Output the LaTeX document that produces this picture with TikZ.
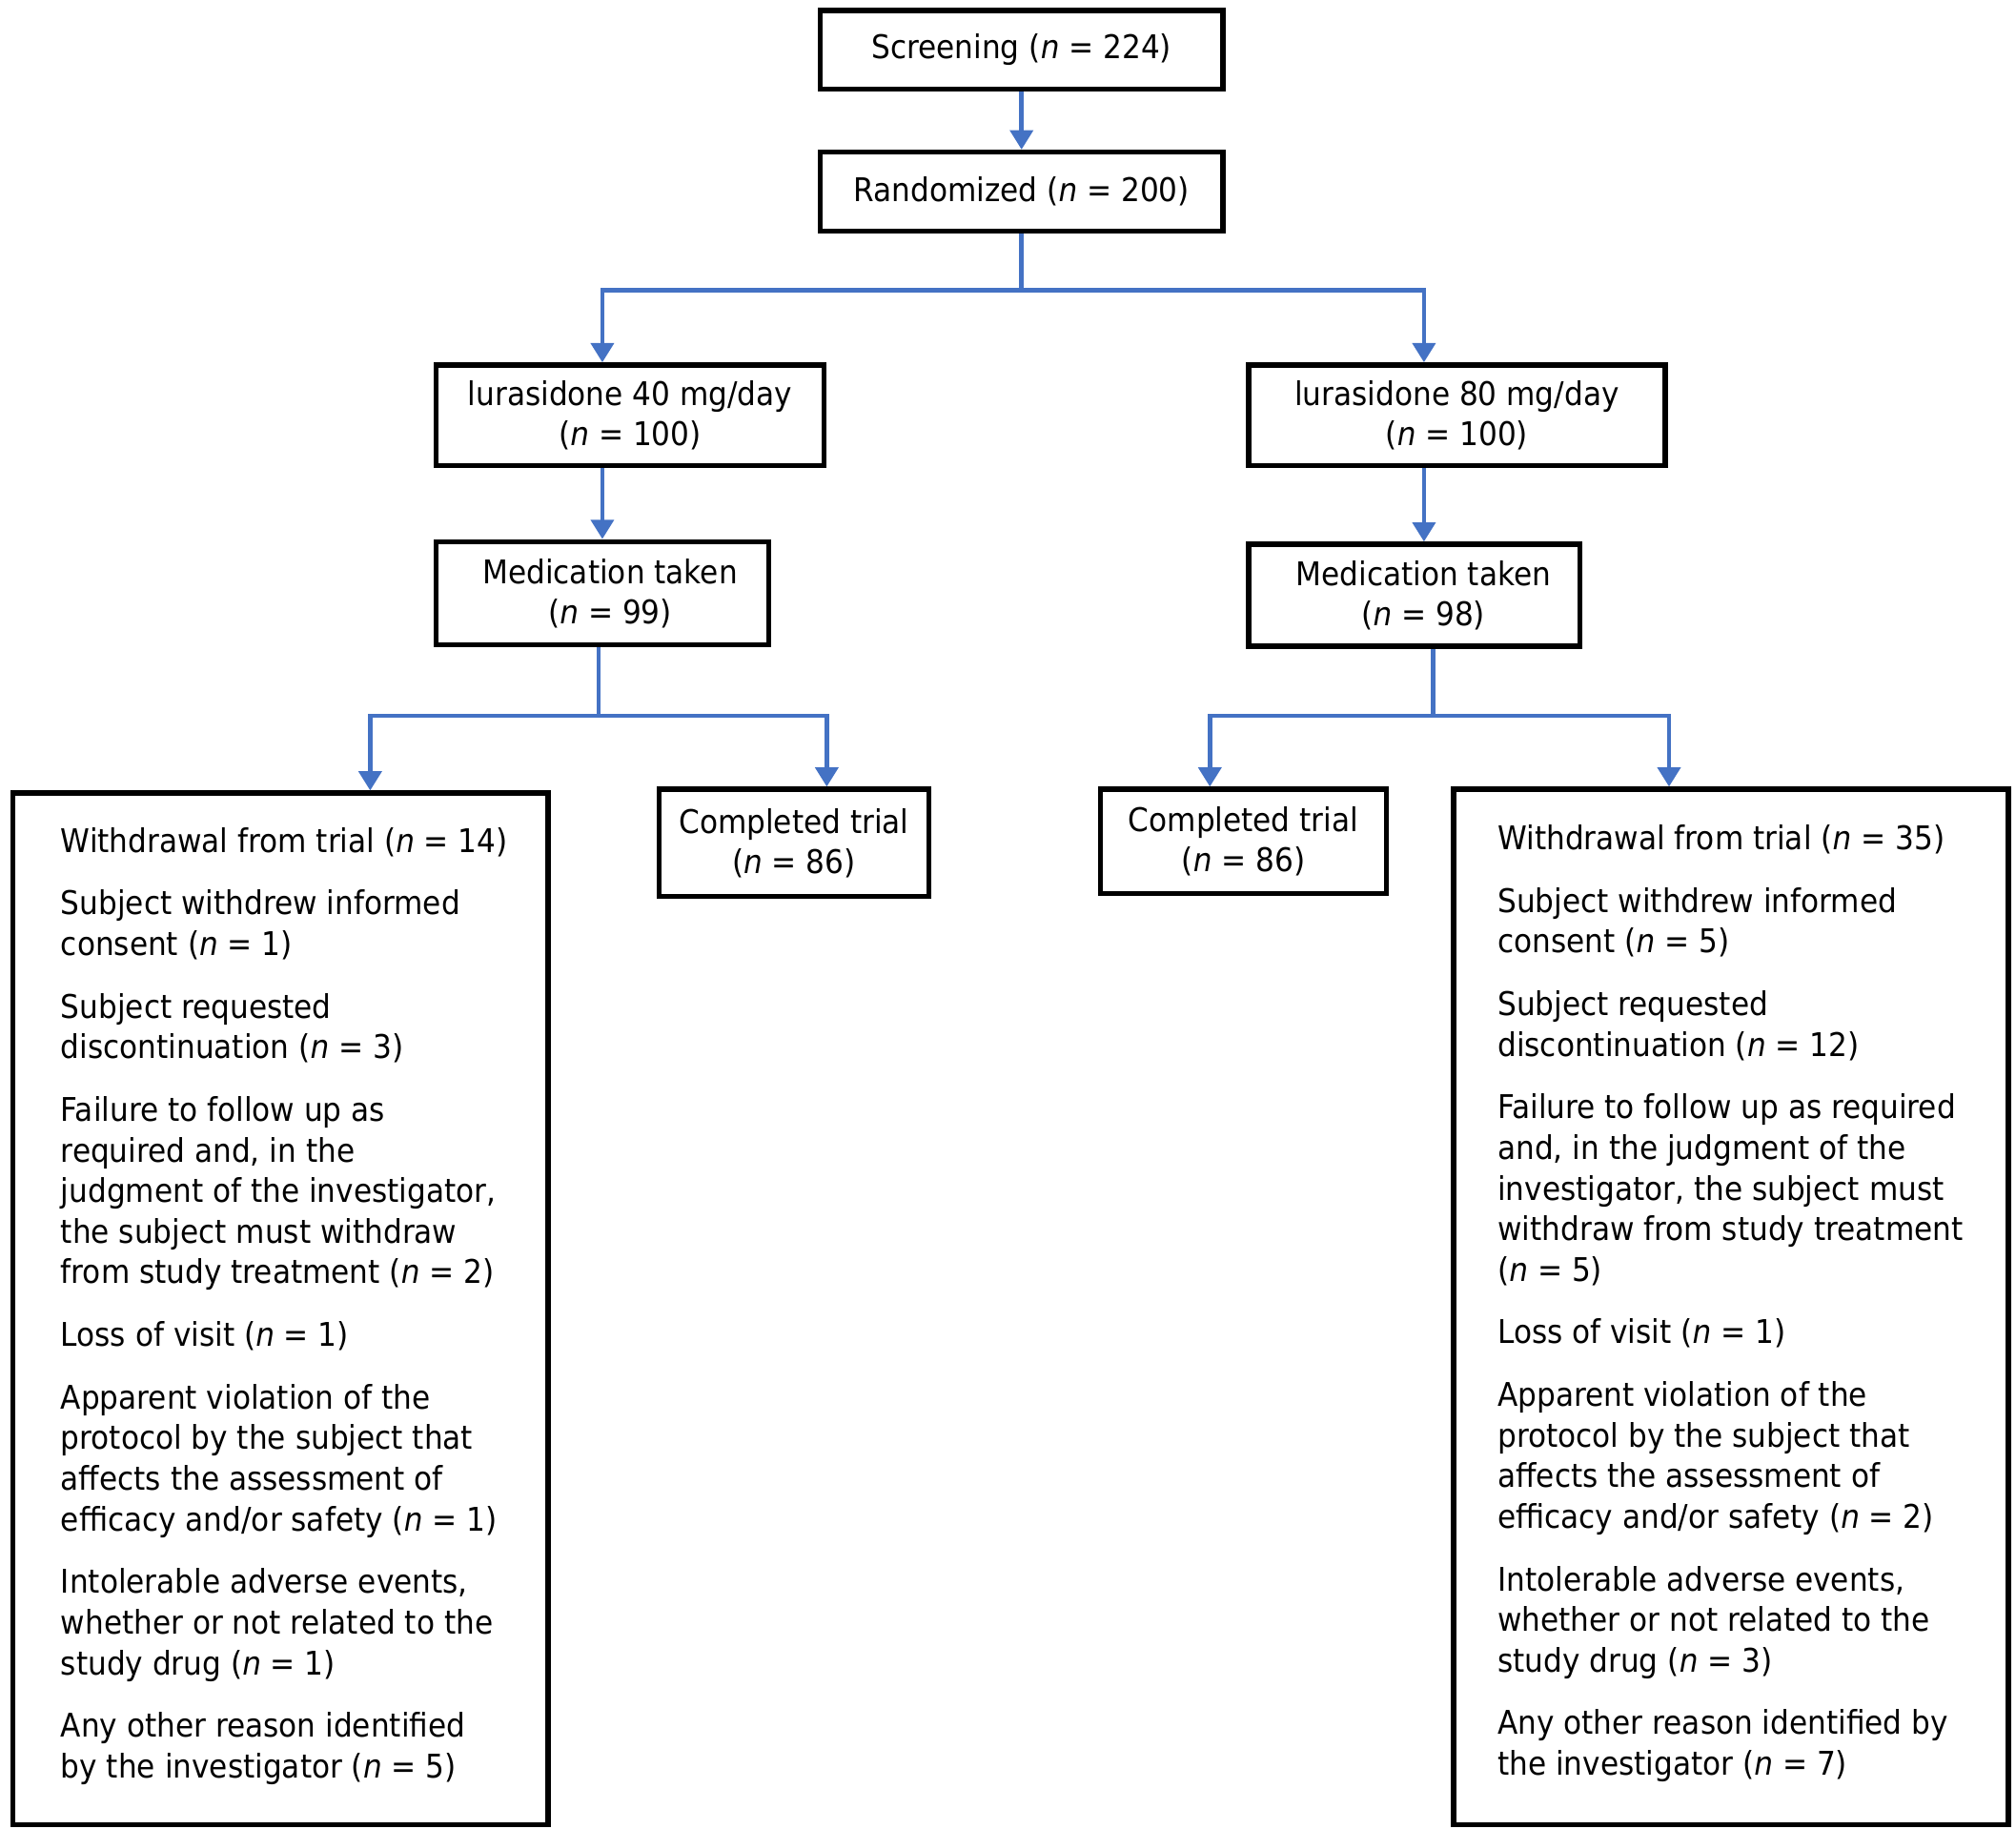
\documentclass[tikz,border=0pt]{standalone}
\usepackage{fontspec}
\setmainfont{DejaVu Sans}[FakeStretch=0.91]
\usetikzlibrary{arrows.meta,calc}
\definecolor{flowblue}{HTML}{4472C4}
\newcommand{\nvar}{\textit{n}}
\begin{document}
\begin{tikzpicture}[x=1pt,y=-1pt,
  box/.style={draw=black,line width=4pt,inner sep=0pt,align=center,
    font=\fontsize{25.3}{31}\selectfont},
  listtext/.style={inner sep=0pt,align=left,anchor=north west,
    font=\fontsize{25.3}{31.5}\selectfont},
  conn/.style={draw=flowblue,line width=3.5pt,line join=miter},
  tip/.style={-{Triangle[length=15pt,width=17.5pt]}},
  twotip/.style={{Triangle[length=15pt,width=17.5pt]}-{Triangle[length=15pt,width=17.5pt]}}
]
\useasboundingbox (0,0) rectangle (1563,1418);

% boxes
\node[box,minimum width=312pt,minimum height=61pt] (scr) at (792,38.5) {Screening (\nvar{} = 224)};
\node[box,minimum width=312pt,minimum height=61pt] (rand) at (792,148.5) {Randomized (\nvar{} = 200)};
\node[box,minimum width=301pt,minimum height=78pt] (l40) at (488.5,322) {lurasidone 40 mg/day\\(\nvar{} = 100)};
\node[box,minimum width=323pt,minimum height=78pt] (l80) at (1129.5,322) {lurasidone 80 mg/day\\(\nvar{} = 100)};
\node[box,minimum width=258pt,minimum height=80pt] (medL) at (467,460) {\hspace*{12pt}Medication taken\\\hspace*{12pt}(\nvar{} = 99)};
\node[box,minimum width=257pt,minimum height=79pt] (medR) at (1096.5,461.5) {\hspace*{14pt}Medication taken\\\hspace*{14pt}(\nvar{} = 98)};
\node[box,minimum width=209pt,minimum height=83pt] (compL) at (615.5,653.5) {Completed trial\\(\nvar{} = 86)};
\node[box,minimum width=222pt,minimum height=81pt] (compR) at (964,652.5) {Completed trial\\(\nvar{} = 86)};
\node[box,minimum width=415pt,minimum height=800pt] (wdL) at (217.5,1015) {};
\node[box,minimum width=430pt,minimum height=803pt] (wdR) at (1342,1013.5) {};

% list texts
\node[listtext] (wdLt) at (47,641.5) {Withdrawal from trial (\nvar{} = 14)\\[17pt]
Subject withdrew informed\\consent (\nvar{} = 1)\\[17pt]
Subject requested\\discontinuation (\nvar{} = 3)\\[17pt]
Failure to follow up as\\required and, in the\\judgment of the investigator,\\the subject must withdraw\\from study treatment (\nvar{} = 2)\\[17pt]
Loss of visit (\nvar{} = 1)\\[17pt]
Apparent violation of the\\protocol by the subject that\\affects the assessment of\\efficacy and/or safety (\nvar{} = 1)\\[17pt]
Intolerable adverse events,\\whether or not related to the\\study drug (\nvar{} = 1)\\[17pt]
Any other reason identified\\by the investigator (\nvar{} = 5)};

\node[listtext] (wdRt) at (1161,639.5) {Withdrawal from trial (\nvar{} = 35)\\[17pt]
Subject withdrew informed\\consent (\nvar{} = 5)\\[17pt]
Subject requested\\discontinuation (\nvar{} = 12)\\[17pt]
Failure to follow up as required\\and, in the judgment of the\\investigator, the subject must\\withdraw from study treatment\\(\nvar{} = 5)\\[17pt]
Loss of visit (\nvar{} = 1)\\[17pt]
Apparent violation of the\\protocol by the subject that\\affects the assessment of\\efficacy and/or safety (\nvar{} = 2)\\[17pt]
Intolerable adverse events,\\whether or not related to the\\study drug (\nvar{} = 3)\\[17pt]
Any other reason identified by\\the investigator (\nvar{} = 7)};

% junction coordinates
\coordinate (jL) at (467,225);
\coordinate (jR) at (1104,225);
\coordinate (kL) at (287,555);
\coordinate (kR) at (641,555);
\coordinate (sL) at (464,555);
\coordinate (mL) at (938,555);
\coordinate (mR) at (1294,555);
\coordinate (sR) at (1111,555);

% connectors
\draw[conn,tip] (scr.south) -- (rand.north);
\draw[conn] (rand.south) -- (rand.south |- jL);
\draw[conn,twotip] (jL |- l40.north) -- (jL) -- (jR) -- (jR |- l80.north);
\draw[conn,tip] (jL |- l40.south) -- (jL |- medL.north);
\draw[conn,tip] (jR |- l80.south) -- (jR |- medR.north);
\draw[conn] (sL |- medL.south) -- (sL);
\draw[conn,twotip] (kL |- wdL.north) -- (kL) -- (kR) -- (kR |- compL.north);
\draw[conn] (sR |- medR.south) -- (sR);
\draw[conn,twotip] (mL |- compR.north) -- (mL) -- (mR) -- (mR |- wdR.north);
\end{tikzpicture}
\end{document}
